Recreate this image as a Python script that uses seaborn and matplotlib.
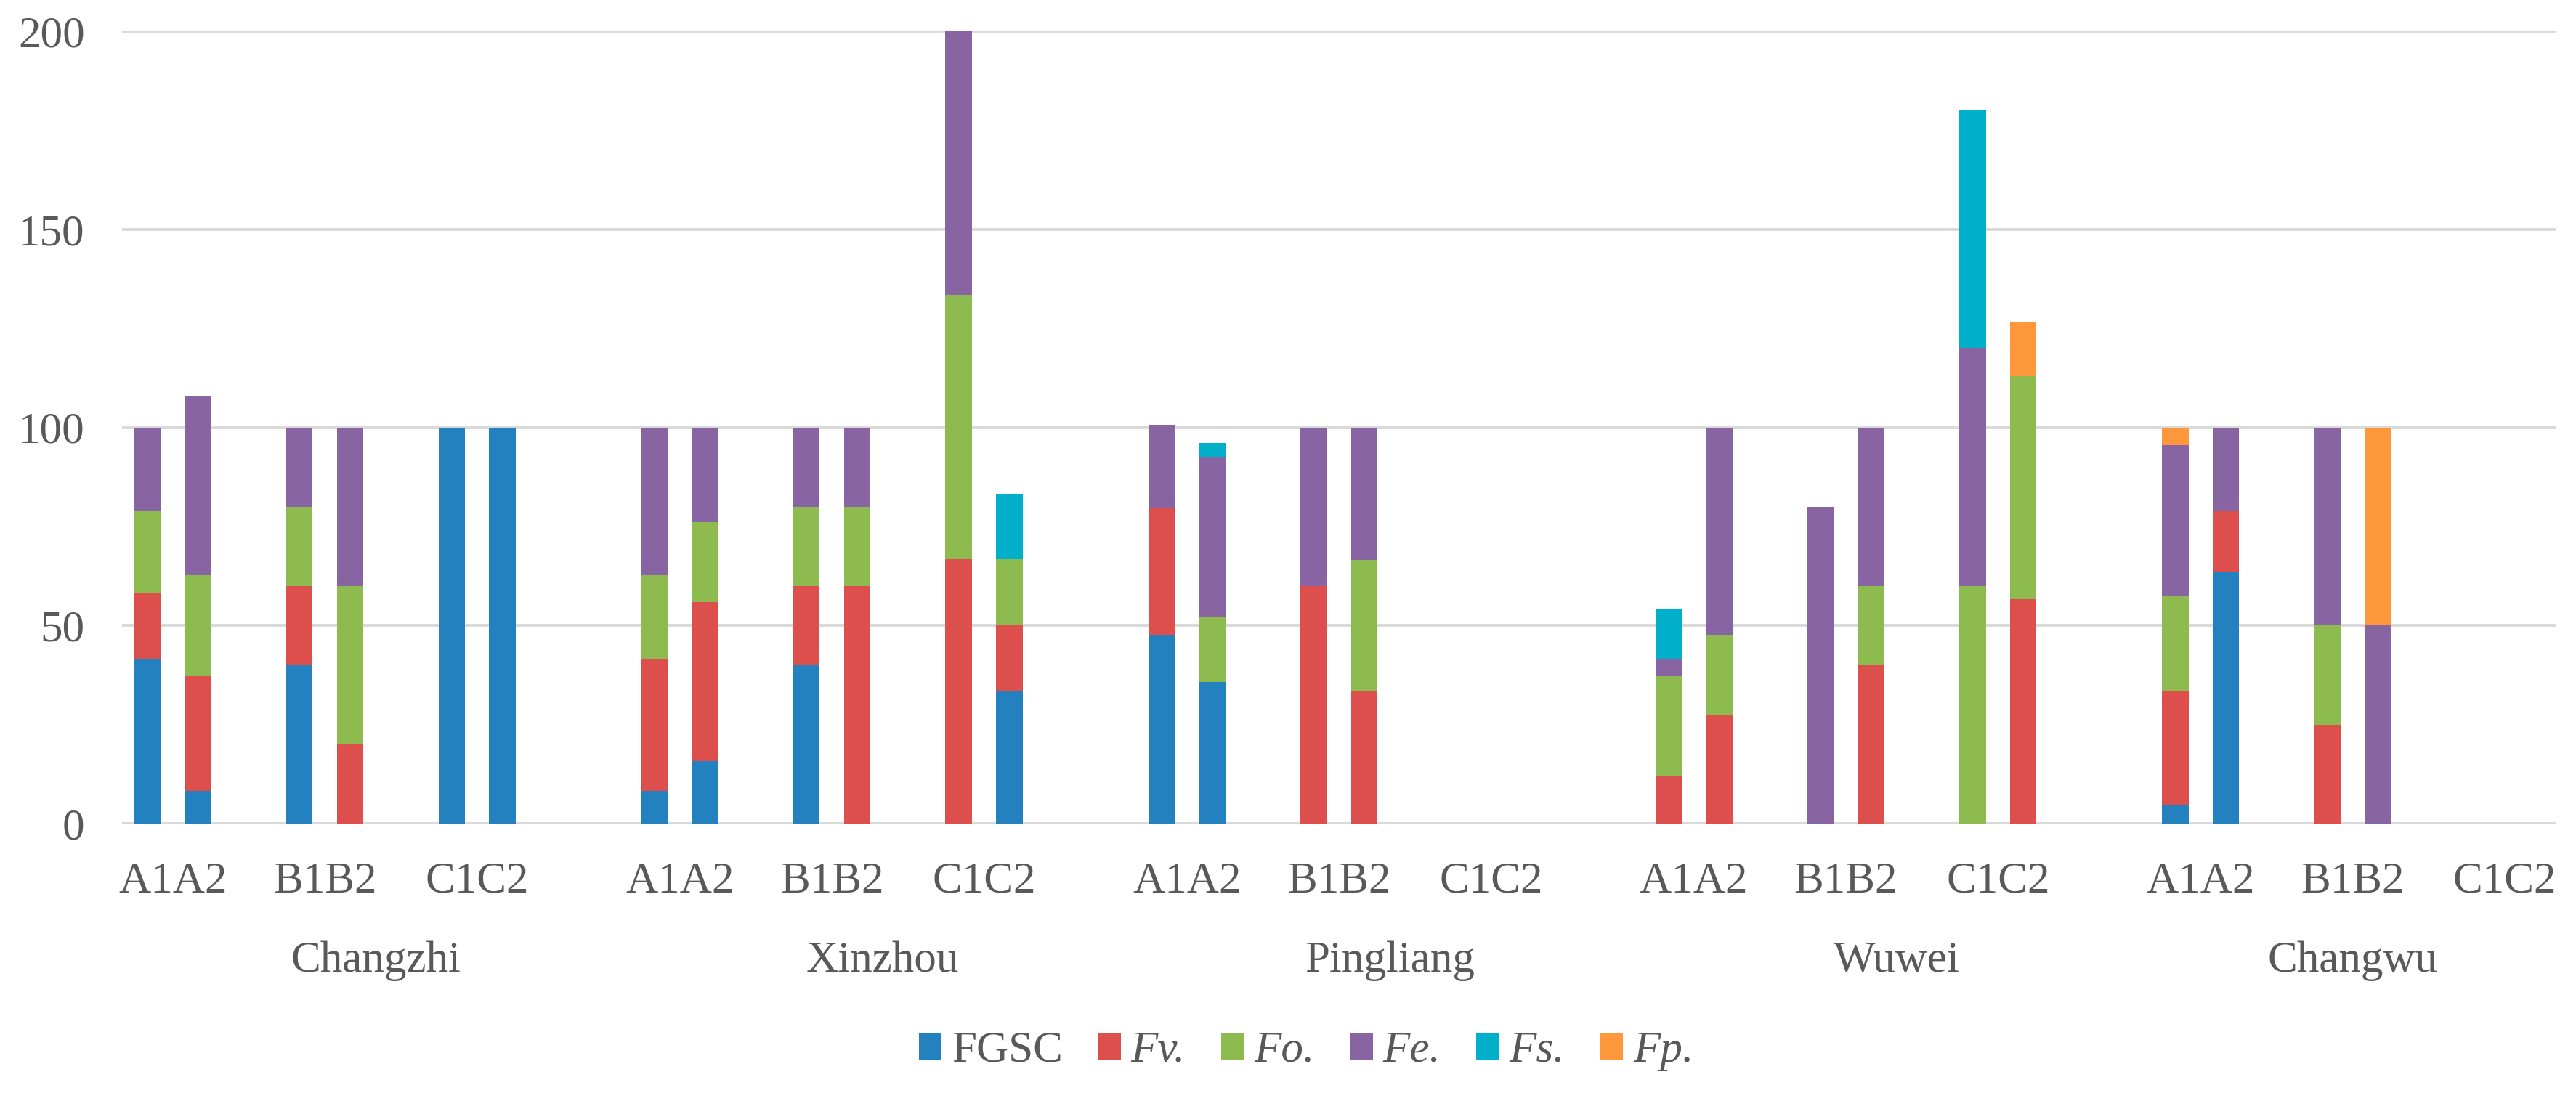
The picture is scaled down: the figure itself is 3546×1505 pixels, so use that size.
import matplotlib
matplotlib.use('Agg')
import matplotlib.pyplot as plt
from matplotlib.patches import Patch
import pandas as pd
import seaborn as sns

# Sites and samples (two bars per group, three groups per site)
sites = ['Changzhi', 'Xinzhou', 'Pingliang', 'Wuwei', 'Changwu']
groups = ['A1A2', 'B1B2', 'C1C2']
samples = ['A1', 'A2', 'B1', 'B2', 'C1', 'C2']

# Stacked components, 6 bars per site in sample order
fgsc = [41.7, 8.2, 40, 0, 100, 100,
        8.3, 15.7, 40, 0, 0, 33.3,
        47.6, 35.8, 0, 0, 0, 0,
        0, 0, 0, 0, 0, 0,
        4.5, 63.4, 0, 0, 0, 0]
fv = [16.5, 29.0, 20, 20, 0, 0,
      33.4, 40.2, 20, 60, 66.7, 16.7,
      32.1, 0, 60, 33.3, 0, 0,
      12.0, 27.5, 0, 40, 0, 56.6,
      29.0, 15.6, 25, 0, 0, 0]
fo = [20.8, 25.5, 20, 40, 0, 0,
      21.0, 20.1, 20, 20, 66.7, 16.7,
      0, 16.5, 0, 33.3, 0, 0,
      25.2, 20.1, 0, 20, 60, 56.4,
      23.8, 0, 25, 0, 0, 0]
fe = [21.0, 45.2, 20, 40, 0, 0,
      37.3, 24.0, 20, 20, 66.6, 0,
      21.0, 40.2, 40, 33.4, 0, 0,
      4.5, 52.4, 80, 40, 60, 0,
      38.2, 21.0, 50, 50, 0, 0]
fs = [0, 0, 0, 0, 0, 0,
      0, 0, 0, 0, 0, 16.6,
      0, 3.5, 0, 0, 0, 0,
      12.6, 0, 0, 0, 60, 0,
      0, 0, 0, 0, 0, 0]
fp = [0, 0, 0, 0, 0, 0,
      0, 0, 0, 0, 0, 0,
      0, 0, 0, 0, 0, 0,
      0, 0, 0, 0, 0, 13.6,
      4.5, 0, 0, 50, 0, 0]

series_names = ['FGSC', 'Fv.', 'Fo.', 'Fe.', 'Fs.', 'Fp.']
series_values = [fgsc, fv, fo, fe, fs, fp]
colors = ['#2481BF', '#DD4F4D', '#8DBB4F', '#8964A3', '#00AFC9', '#FF983C']

# Category order with blank slots between groups and sites
order = []
for s in sites:
    for g in range(3):
        order += [f'{s}-{samples[2*g]}', f'{s}-{samples[2*g+1]}', f'gap-{s}-{g}']
    order.append(f'gap-{s}-end')
order = order[:-2]  # last site has no trailing blanks

df = pd.DataFrame({'slot': [f'{s}-{m}' for s in sites for m in samples]})
running = [0.0] * len(df)
for name, vals in zip(series_names, series_values):
    running = [r + v for r, v in zip(running, vals)]
    df[name] = running

sns.set_style('white')
plt.rcParams['font.family'] = 'serif'
plt.rcParams['font.serif'] = ['Liberation Serif', 'Times New Roman', 'DejaVu Serif']
serif = ['Liberation Serif', 'DejaVu Serif']
text_color = '#595959'
fs_pt = 44

fig = plt.figure(figsize=(35.46, 15.05), dpi=100)
ax = fig.add_axes([0.0474, 0.2465, 0.9447, 0.7249])

# Draw cumulative layers top-down so lower segments overlay
for name, col in reversed(list(zip(series_names, colors))):
    sns.barplot(data=df, x='slot', y=name, order=order, color=col,
                width=0.52, saturation=1, errorbar=None, linewidth=0, ax=ax)

ax.set_xlim(-0.5, len(order) - 0.5)
ax.set_ylim(0, 200)
ax.set_yticks([0, 50, 100, 150, 200])
ax.set_yticklabels(['0', '50', '100', '150', '200'], family=serif)
ax.yaxis.grid(True, color='#D9D9D9', linewidth=2.8)
ax.set_axisbelow(True)
for sp in ax.spines.values():
    sp.set_visible(False)
ax.set_xticks([])
ax.set_xlabel('')
ax.set_ylabel('')
ax.tick_params(axis='y', length=0, pad=37, labelsize=fs_pt, labelcolor=text_color)

trans = ax.get_xaxis_transform()
for i, s in enumerate(sites):
    for g, glab in enumerate(groups):
        x = order.index(f'{s}-{samples[2*g]}') + 0.5
        ax.text(x, -0.087, glab, transform=trans, ha='center', va='baseline',
                fontsize=fs_pt, color=text_color, family=serif)
    start = order.index(f'{s}-A1')
    end = order.index(f'{sites[i+1]}-A1') - 1 if i < len(sites) - 1 else len(order) - 1
    ax.text((start + end) / 2, -0.187, s, transform=trans, ha='center', va='baseline',
            fontsize=fs_pt, color=text_color, family=serif)

handles = [Patch(facecolor=c, edgecolor='none') for c in colors]
leg = fig.legend(handles, series_names, loc='center', bbox_to_anchor=(0.507, 0.0385),
                 ncol=6, frameon=False, handlelength=0.52,
                 handleheight=0.56, handletextpad=0.22, columnspacing=0.8,
                 prop={'family': serif, 'size': fs_pt})
for i, t in enumerate(leg.get_texts()):
    t.set_color(text_color)
    if i > 0:
        t.set_style('italic')

fig.savefig('out.png', dpi=100)
